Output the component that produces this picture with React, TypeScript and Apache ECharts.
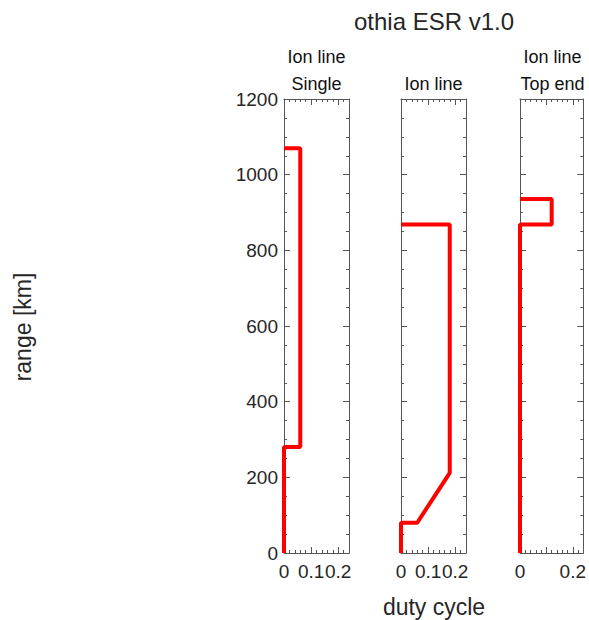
import React, { useEffect, useRef } from "react";
import * as echarts from "echarts";

const panelTitles: string[][] = [["Ion line", "Single"], ["Ion line"], ["Ion line", "Top end"]];
const singleDuty = [0, 0, 0.06, 0.06, 0];
const singleRange = [0, 280, 280, 1070, 1070];
const ionDuty = [0, 0, 0.06, 0.18, 0.18, 0];
const ionRange = [0, 80, 80, 212, 868, 868];
const topDuty = [0, 0, 0.12, 0.12, 0];
const topRange = [0, 868, 868, 936, 936];
const xLabelValues: number[][] = [[0, 0.1, 0.2], [0, 0.1, 0.2], [0, 0.2]];
const yTicks = [0, 200, 400, 600, 800, 1000, 1200];

const FONT = "'Liberation Sans', Arial, sans-serif";
const GRID_LEFTS = [284, 401, 520];
const GRID_W = 65;
const GRID_TOP = 99;
const GRID_H = 454;
const AXIS_COLOR = "#555";
const TEXT_COLOR = "#262626";

export default function App() {
  const ref = useRef<HTMLDivElement>(null);
  useEffect(() => {
    if (!ref.current) return;
    const chart = echarts.init(ref.current, null, { renderer: "svg" });
    const seriesData = [
      singleDuty.map((d, i) => [d, singleRange[i]]),
      ionDuty.map((d, i) => [d, ionRange[i]]),
      topDuty.map((d, i) => [d, topRange[i]]),
    ];
    const grids = GRID_LEFTS.map((l) => ({ left: l, top: GRID_TOP, width: GRID_W, height: GRID_H }));
    const xAxes: any[] = [];
    const yAxes: any[] = [];
    const minorX = [0, 0.02, 0.04, 0.06, 0.08, 0.1, 0.12, 0.14, 0.16, 0.18, 0.2, 0.22, 0.24];
    GRID_LEFTS.forEach((_, g) => {
      xAxes.push({
        type: "value", gridIndex: g, min: 0, max: 0.24, position: "bottom",
        axisLine: { show: true, onZero: false, lineStyle: { color: AXIS_COLOR, width: 1 } },
        axisTick: { show: true, inside: true, length: 3, customValues: minorX, lineStyle: { color: AXIS_COLOR } },
        axisLabel: { show: true, customValues: xLabelValues[g], margin: 9, fontSize: 19, color: TEXT_COLOR, fontFamily: FONT,
          formatter: (v: number) => (v === 0 ? "0" : String(Math.round(v * 10) / 10)) },
        splitLine: { show: false },
      });
      xAxes.push({
        type: "value", gridIndex: g, min: 0, max: 0.24, position: "bottom",
        axisLine: { show: false, onZero: false },
        axisTick: { show: true, inside: true, length: 6, customValues: [0.1, 0.2], lineStyle: { color: AXIS_COLOR } },
        axisLabel: { show: false }, splitLine: { show: false },
      });
      xAxes.push({
        type: "value", gridIndex: g, min: 0, max: 0.24, position: "top",
        axisLine: { show: true, onZero: false, lineStyle: { color: AXIS_COLOR, width: 1 } },
        axisTick: { show: true, inside: true, length: 3, customValues: minorX, lineStyle: { color: AXIS_COLOR } },
        axisLabel: { show: false }, splitLine: { show: false },
      });
      xAxes.push({
        type: "value", gridIndex: g, min: 0, max: 0.24, position: "top",
        axisLine: { show: false, onZero: false },
        axisTick: { show: true, inside: true, length: 6, customValues: [0.1, 0.2], lineStyle: { color: AXIS_COLOR } },
        axisLabel: { show: false }, splitLine: { show: false },
      });
      yAxes.push({
        type: "value", gridIndex: g, min: 0, max: 1200, interval: 200, position: "left",
        axisLine: { show: true, onZero: false, lineStyle: { color: AXIS_COLOR, width: 1 } },
        axisTick: { show: true, inside: true, length: 6, lineStyle: { color: AXIS_COLOR } },
        minorTick: { show: true, splitNumber: 4, length: 3, lineStyle: { color: AXIS_COLOR } },
        axisLabel: { show: g === 0, customValues: yTicks, margin: 6, fontSize: 19, color: TEXT_COLOR, fontFamily: FONT,
          formatter: (v: number) => String(v) },
        splitLine: { show: false }, minorSplitLine: { show: false },
      });
      yAxes.push({
        type: "value", gridIndex: g, min: 0, max: 1200, interval: 200, position: "right",
        axisLine: { show: true, onZero: false, lineStyle: { color: AXIS_COLOR, width: 1 } },
        axisTick: { show: true, inside: true, length: 6, lineStyle: { color: AXIS_COLOR } },
        minorTick: { show: true, splitNumber: 4, length: 3, lineStyle: { color: AXIS_COLOR } },
        axisLabel: { show: false }, splitLine: { show: false }, minorSplitLine: { show: false },
      });
    });
    const graphics: any[] = [
      { type: "text", x: 434, y: 21, style: { text: "othia ESR v1.0", font: `24px ${FONT}`, fill: TEXT_COLOR, align: "center", verticalAlign: "middle" } },
      { type: "text", x: 434, y: 607, style: { text: "duty cycle", font: `23px ${FONT}`, fill: TEXT_COLOR, align: "center", verticalAlign: "middle" } },
      { type: "text", x: 23, y: 327, rotation: Math.PI / 2, style: { text: "range [km]", font: `23px ${FONT}`, fill: TEXT_COLOR, align: "center", verticalAlign: "middle" } },
    ];
    panelTitles.forEach((lines, g) => {
      const cx = GRID_LEFTS[g] + GRID_W / 2;
      lines.forEach((t, k) => {
        const y = lines.length === 2 ? (k === 0 ? 57 : 84) : 84;
        graphics.push({ type: "text", x: cx, y, style: { text: t, font: `18px ${FONT}`, fill: "#111", align: "center", verticalAlign: "middle" } });
      });
    });
    chart.setOption({
      animation: false,
      backgroundColor: "#fff",
      grid: grids,
      xAxis: xAxes,
      yAxis: yAxes,
      series: seriesData.map((d, g) => ({
        type: "line", xAxisIndex: g * 4, yAxisIndex: g * 2, data: d, showSymbol: false, symbol: "none",
        lineStyle: { color: "#ff0000", width: 4 }, z: 5, clip: false,
      })),
      graphic: graphics,
    });
    return () => chart.dispose();
  }, []);
  return <div ref={ref} style={{ position: "fixed", left: 0, top: 0, width: 589, height: 620 }} />;
}
